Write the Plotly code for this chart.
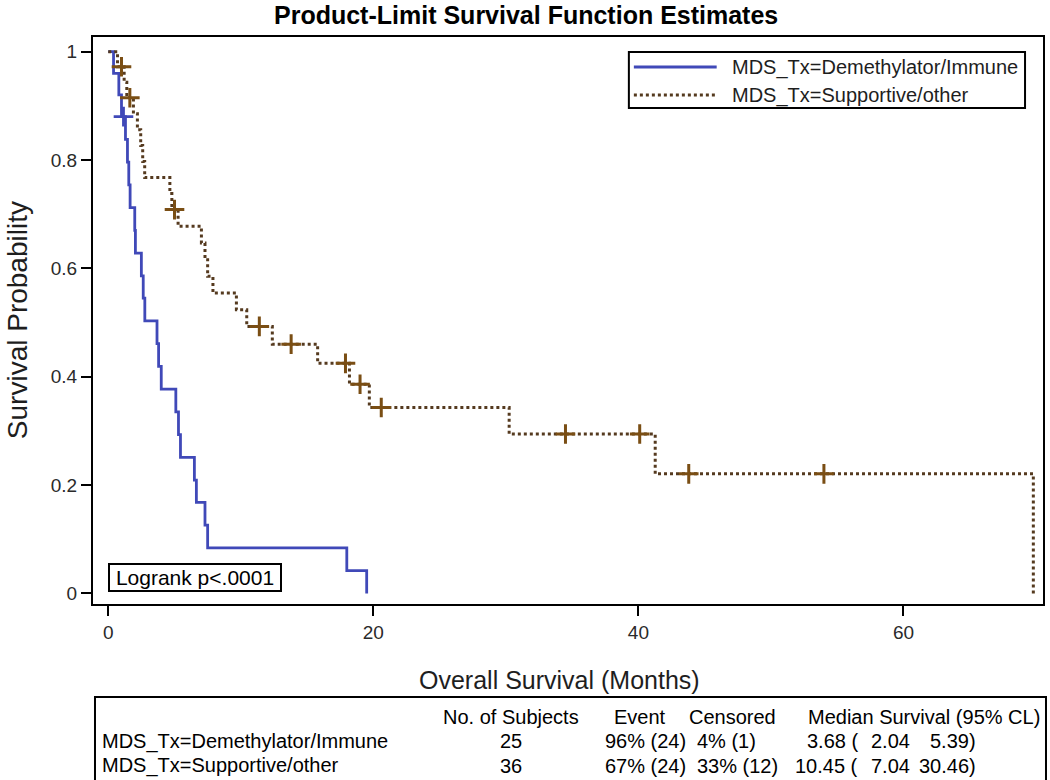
import plotly.graph_objects as go

# ---------------- data ----------------
group_names = ["MDS_Tx=Demethylator/Immune", "MDS_Tx=Supportive/other"]

# Demethylator/Immune : step times (months) and survival after each step
demeth_time = [0, 0.4, 0.8, 1.0, 1.3, 1.45, 1.55, 1.65, 2.0, 2.05, 2.5, 2.64, 2.76,
               3.68, 3.8, 4.0, 5.1, 5.3, 5.45, 6.5, 6.65, 7.3, 7.5, 18.0, 19.5]
demeth_surv = [1.0, 0.96, 0.92, 0.88, 0.838, 0.796, 0.754, 0.712, 0.670, 0.628, 0.586,
               0.545, 0.503, 0.461, 0.419, 0.377, 0.335, 0.293, 0.251, 0.209, 0.168,
               0.126, 0.084, 0.042, 0.0]
demeth_cens_time = [1.15]
demeth_cens_surv = [0.88]

# Supportive/other
supp_time = [0, 0.7, 1.2, 1.4, 1.9, 2.2, 2.45, 2.6, 2.75, 4.65, 4.8, 5.27, 7.03, 7.3,
             7.5, 7.9, 9.67, 10.45, 12.38, 15.8, 18.2, 19.7, 30.25, 41.27, 69.8]
supp_surv = [1.0, 0.9722, 0.9436, 0.9150, 0.8855, 0.8560, 0.8265, 0.7970, 0.7675,
             0.7379, 0.7084, 0.6776, 0.6468, 0.6160, 0.5852, 0.5544, 0.5236, 0.4928,
             0.4600, 0.4246, 0.3860, 0.3431, 0.2941, 0.2206, 0.0]
supp_cens_time = [1.0, 1.63, 5.0, 11.4, 13.8, 17.9, 19.0, 20.6, 34.5, 40.1, 43.8, 54.0]
supp_cens_surv = [0.9722, 0.9150, 0.7084, 0.4928, 0.4600, 0.4246, 0.3860, 0.3431,
                  0.2941, 0.2941, 0.2206, 0.2206]

x_ticks = [0, 20, 40, 60]
y_ticks = [0, 0.2, 0.4, 0.6, 0.8, 1.0]
y_tick_text = ["0", "0.2", "0.4", "0.6", "0.8", "1"]

# summary table
table_header = ["No. of Subjects", "Event", "Censored", "Median Survival (95% CL)"]
n_subjects = [25, 36]
n_events = [24, 24]
pct_events = [96, 67]
n_censored = [1, 12]
pct_censored = [4, 33]
median_surv = ["3.68", "10.45"]
ci_lower = ["2.04", "7.04"]
ci_upper = ["5.39", "30.46"]
logrank_text = "Logrank p<.0001"

# ---------------- styling ----------------
W, H = 1050, 780
ML, MR, MT, MB = 93, 5, 37, 176
PW, PH = W - ML - MR, H - MT - MB

def px(x):
    return (x - ML) / PW

def py(y):
    return (H - MB - y) / PH

BLUE = "#4049b8"
BROWN_LINE = "#553a1f"
BROWN_MARK = "#7a4e14"
FONT = "Liberation Sans, Arial, sans-serif"
TXT = "#1e1e1e"

fig = go.Figure()

fig.add_trace(go.Scatter(
    x=demeth_time, y=demeth_surv, mode="lines", line_shape="hv",
    line=dict(color=BLUE, width=2.8), name=group_names[0], showlegend=False))
fig.add_trace(go.Scatter(
    x=supp_time, y=supp_surv, mode="lines", line_shape="hv",
    line=dict(color=BROWN_LINE, width=3, dash="3px,3px"), name=group_names[1],
    showlegend=False))
fig.add_trace(go.Scatter(
    x=demeth_cens_time, y=demeth_cens_surv, mode="markers", showlegend=False,
    marker=dict(symbol="cross-thin", size=14, line=dict(color=BLUE, width=2.8))))
fig.add_trace(go.Scatter(
    x=supp_cens_time, y=supp_cens_surv, mode="markers", showlegend=False,
    marker=dict(symbol="cross-thin", size=14, line=dict(color=BROWN_MARK, width=3))))

axis_common = dict(showline=True, linewidth=2, linecolor="black", mirror=True,
                   ticks="outside", ticklen=10, tickwidth=2, tickcolor="black",
                   showgrid=False, zeroline=False,
                   tickfont=dict(family=FONT, size=19, color="#2a2a2a"))

fig.update_xaxes(range=[-1.15, 70.53], tickvals=x_ticks, **axis_common)
fig.update_yaxes(range=[-0.0196, 1.027], tickvals=y_ticks, ticktext=y_tick_text,
                 **axis_common)

annotations = [
    dict(text="<b>Product-Limit Survival Function Estimates</b>", xref="paper", yref="paper",
         x=px(527), y=py(15), xanchor="center", yanchor="middle", showarrow=False,
         font=dict(family=FONT, size=25, color="black")),
    dict(text="Overall Survival (Months)", xref="paper", yref="paper",
         x=px(560), y=py(680), xanchor="center", yanchor="middle", showarrow=False,
         font=dict(family=FONT, size=25, color=TXT)),
    dict(text="Survival Probability", xref="paper", yref="paper", textangle=-90,
         x=px(17), y=py(320), xanchor="center", yanchor="middle", showarrow=False,
         font=dict(family=FONT, size=28, color=TXT)),
    dict(text=logrank_text, xref="paper", yref="paper",
         x=px(195), y=py(577), xanchor="center", yanchor="middle", showarrow=False,
         width=168, align="center",
         font=dict(family=FONT, size=21, color="black"),
         bordercolor="black", borderwidth=2, borderpad=1, bgcolor="white"),
]

# legend (drawn as a boxed key inside the plot)
leg_rows = [67, 95]
for name, ry in zip(group_names, leg_rows):
    annotations.append(dict(text=name, xref="paper", yref="paper", x=px(731), y=py(ry),
                            xanchor="left", yanchor="middle", showarrow=False,
                            font=dict(family=FONT, size=20, color=TXT)))

shapes = [
    dict(type="rect", xref="paper", yref="paper", x0=px(630), x1=px(1027),
         y0=py(108), y1=py(52), line=dict(color="black", width=2), fillcolor="white",
         layer="below"),
    dict(type="line", xref="paper", yref="paper", x0=px(635), x1=px(718),
         y0=py(leg_rows[0]), y1=py(leg_rows[0]), line=dict(color=BLUE, width=2.8)),
    dict(type="line", xref="paper", yref="paper", x0=px(635), x1=px(718),
         y0=py(leg_rows[1]), y1=py(leg_rows[1]),
         line=dict(color=BROWN_LINE, width=3, dash="3px,3px")),
    dict(type="rect", xref="paper", yref="paper", x0=px(95), x1=px(1048),
         y0=py(697), y1=py(800), line=dict(color="black", width=2)),
]

# table
hdr_y, row_y = 717, [741, 766]
tfont = dict(family=FONT, size=20, color="black")
for hx, ht in zip([512, 641, 734], table_header[:3]):
    annotations.append(dict(text=ht, xref="paper", yref="paper", x=px(hx), y=py(hdr_y),
                            xanchor="center", yanchor="middle", showarrow=False,
                            font=tfont))
annotations.append(dict(text=table_header[3], xref="paper", yref="paper", x=px(1044),
                        y=py(hdr_y), xanchor="right", yanchor="middle", showarrow=False,
                        font=tfont))
for i in range(2):
    cells = [
        (group_names[i], 100, "left"),
        (str(n_subjects[i]), 512, "center"),
        (f"{pct_events[i]}% ({n_events[i]})", 604, "left"),
        (f"{pct_censored[i]}% ({n_censored[i]})", 696, "left"),
        (f"{median_surv[i]} (", 862, "right"),
        (ci_lower[i], 914, "right"),
        (ci_upper[i] + ")", 980, "right"),
    ]
    for txt, xx, anc in cells:
        annotations.append(dict(text=txt, xref="paper", yref="paper", x=px(xx),
                                y=py(row_y[i]), xanchor=anc, yanchor="middle",
                                showarrow=False, font=tfont))

fig.update_layout(
    width=W, height=H, margin=dict(l=ML, r=MR, t=MT, b=MB),
    plot_bgcolor="white", paper_bgcolor="white",
    showlegend=False,
    annotations=annotations, shapes=shapes,
)

fig.write_html("out.html", config={"displayModeBar": False},
               post_script="document.body.style.margin='0px';document.body.style.padding='0px';")
